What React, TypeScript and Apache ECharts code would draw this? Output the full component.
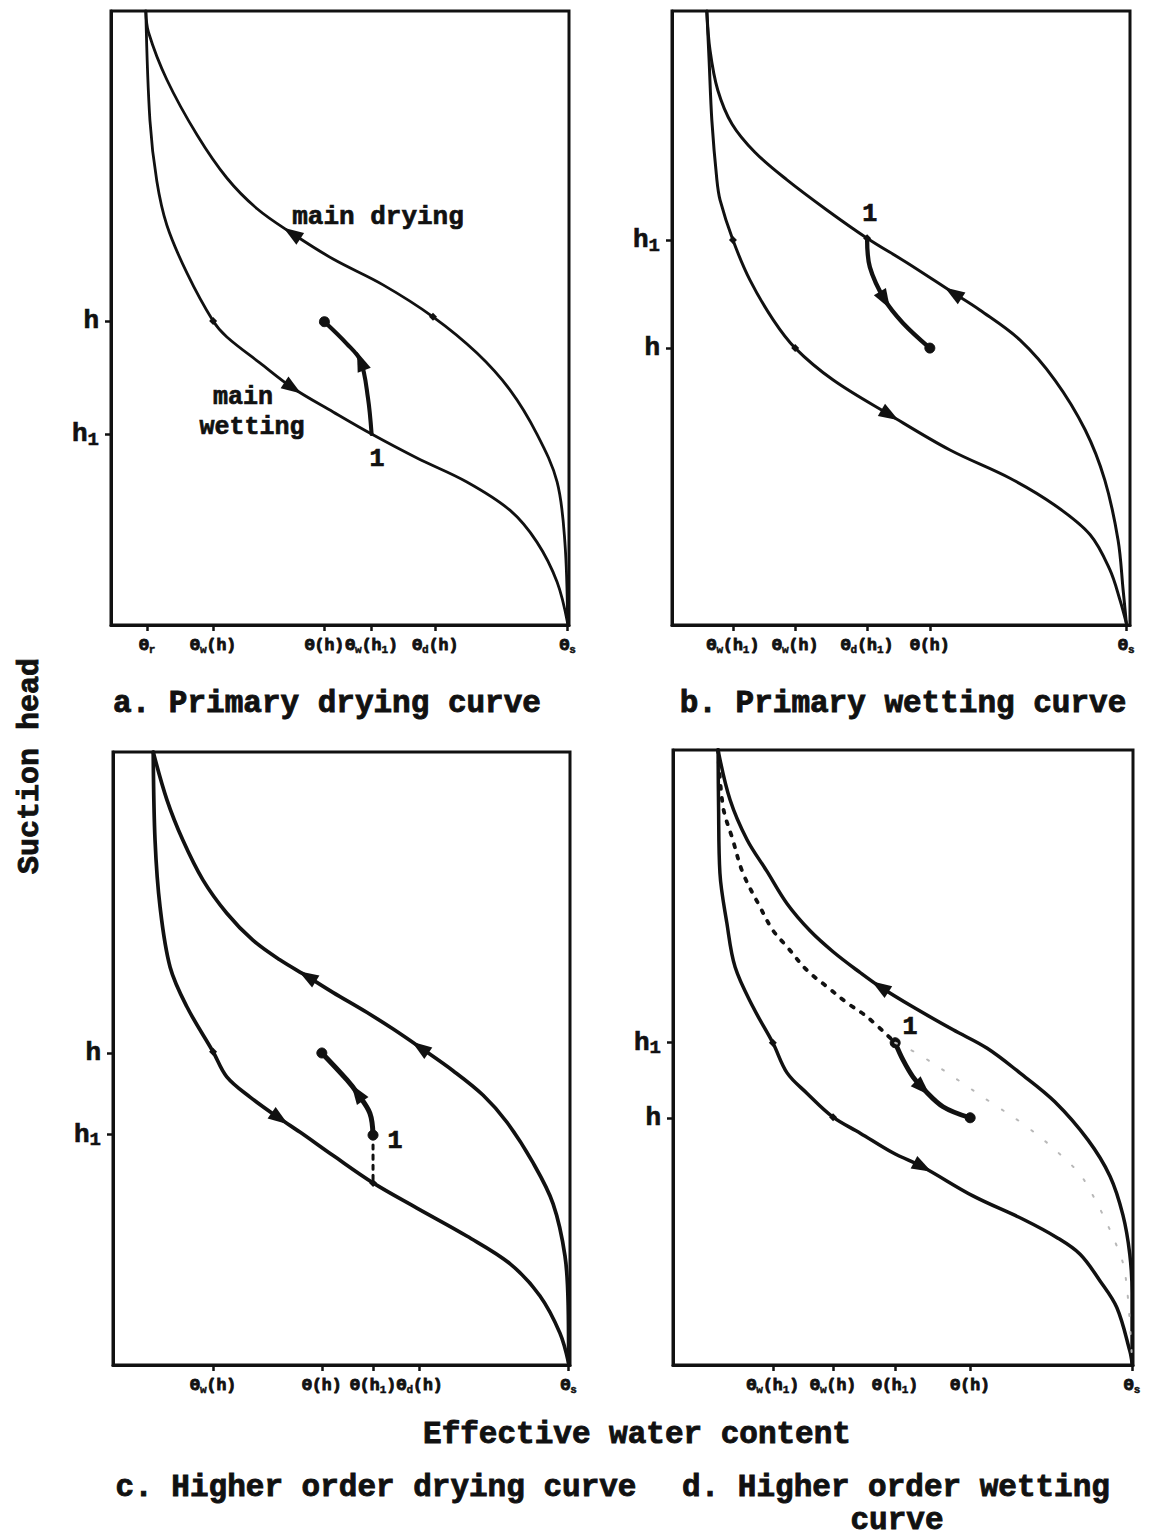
import React, { useEffect, useRef } from "react";
import * as echarts from "echarts";

type Pt = [number, number];

const FONT = "'Liberation Mono', 'Courier New', monospace";
const INK = "#111";

// ---------- Panel a : primary drying curve ----------
const dryA: Pt[] = [[7.6,100],[8.2,96.5],[12.2,88.8],[18.8,79.8],[25.3,72.8],[31.9,67.8],[39.5,63.8],[48.5,59.6],[59.4,55.4],[70.3,50.2],[79.9,44.3],[87.1,38.3],[93.0,31.1],[97.4,23.3],[99.1,13.5],[99.7,0.3]];
const wetA: Pt[] = [[7.6,100],[8.5,82.2],[10.0,72.3],[12.2,65.1],[16.6,57.3],[22.3,49.5],[25.3,46.9],[32.5,42.7],[39.7,38.6],[48.5,34.7],[56.9,31.1],[66.8,27.2],[77.7,23.3],[87.1,18.7],[93.0,13.5],[97.4,7.0],[99.7,0.3]];
const scanA: Pt[] = [[56.9,31.1],[56.1,37.0],[54.5,43.0],[51.5,45.8],[46.6,49.4]];
const xTicksA = [7.9, 22.3, 46.6, 56.9, 70.8, 99.7];
const xLabelsA = ["Θ_r", "Θ_w(h)", "Θ(h)", "Θ_w(h_1)", "Θ_d(h)", "Θ_s"];
const yTicksA = [49.5, 31.1];
const yLabelsA = ["h", "h_1"];
const marksA: Pt[] = [[22.3,49.5],[70.3,50.2]];
const dotsA: Pt[] = [[46.6,49.4]];
const notesA: { at: Pt; text: string; size: number }[] = [
  { at: [58.3, 66.4], text: "main drying", size: 26 },
  { at: [28.8, 37.1], text: "main", size: 25 },
  { at: [30.8, 32.1], text: "wetting", size: 25 },
  { at: [58.1, 27.0], text: "1", size: 25 },
];

// ---------- Panel b : primary wetting curve ----------
const dryB: Pt[] = [[7.6,100],[8.3,93.6],[10.0,87.1],[13.1,81.6],[18.1,77.0],[25.1,72.5],[33.8,67.6],[42.6,63.0],[51.3,59.0],[61.4,54.1],[67.2,51.3],[76.0,46.4],[83.6,39.9],[90.2,31.8],[94.5,23.6],[97.4,13.8],[98.5,5.7],[99.2,0.3]];
const wetB: Pt[] = [[7.6,100],[8.1,92.0],[8.7,82.2],[9.8,72.5],[10.5,69.2],[13.3,62.7],[17.0,56.2],[22.1,49.7],[26.9,45.1],[35.2,39.9],[47.6,34.2],[60.7,28.5],[73.8,23.9],[83.6,19.5],[91.3,14.7],[95.6,9.0],[97.8,4.1],[99.2,0.3]];
const scanB: Pt[] = [[42.6,63.0],[43.2,58.3],[46.5,52.9],[50.4,49.2],[56.3,45.1]];
const xTicksB = [13.3, 26.9, 42.6, 56.3, 99.2];
const xLabelsB = ["Θ_w(h_1)", "Θ_w(h)", "Θ_d(h_1)", "Θ(h)", "Θ_s"];
const yTicksB = [62.7, 45.1];
const yLabelsB = ["h_1", "h"];
const marksB: Pt[] = [[13.3,62.7],[26.9,45.1],[42.6,63.0]];
const dotsB: Pt[] = [[56.3,45.1]];
const notesB = [{ at: [43.2, 66.8] as Pt, text: "1", size: 25 }];

// ---------- Panel c : higher order drying curve ----------
const dryC: Pt[] = [[8.8,100],[11.8,92.2],[15.3,85.6],[19.7,79.1],[24.9,73.7],[30.6,69.3],[36.5,66.1],[42.5,63.4],[48.1,60.8],[55.6,57.5],[61.3,54.8],[67.2,51.8],[74.4,48.0],[81.0,44.0],[86.2,39.6],[91.9,33.0],[96.3,26.3],[98.9,17.8],[99.6,9.8],[99.7,0.3]];
const wetC: Pt[] = [[8.8,100],[9.2,85.6],[10.3,74.7],[12.5,64.9],[16.2,58.4],[21.9,51.1],[24.9,47.0],[30.0,43.7],[36.5,40.2],[40.9,38.0],[48.1,34.2],[56.9,29.7],[66.5,25.6],[77.5,21.0],[86.9,16.5],[93.4,11.3],[97.8,5.2],[99.7,0.3]];
const scanC: Pt[] = [[56.9,37.5],[56.2,41.1],[53.4,44.4],[51.2,46.5],[45.7,50.9]];
const linkC: Pt[] = [[56.9,37.5],[56.9,29.7]];
const xTicksC = [21.9, 45.7, 56.9, 67.1, 99.7];
const xLabelsC = ["Θ_w(h)", "Θ(h)", "Θ(h_1)", "Θ_d(h)", "Θ_s"];
const yTicksC = [50.9, 37.6];
const yLabelsC = ["h", "h_1"];
const marksC: Pt[] = [[21.9,51.1],[56.9,29.7]];
const dotsC: Pt[] = [[45.7,50.9],[56.9,37.5]];
const notesC = [{ at: [61.7, 36.4] as Pt, text: "1", size: 25 }];

// ---------- Panel d : higher order wetting curve ----------
const dryD: Pt[] = [[9.8,100],[12.4,91.9],[16.1,85.4],[20.4,80.3],[24.8,75.0],[29.8,70.6],[34.8,67.2],[40.7,63.8],[45.0,61.5],[52.2,58.2],[60.9,54.5],[68.3,51.5],[75.4,47.5],[83.0,42.8],[90.2,36.6],[95.0,30.7],[97.8,24.4],[99.3,18.0],[99.8,11.7],[99.8,0.3]];
const wetD: Pt[] = [[9.8,100],[9.9,91.0],[10.2,80.0],[11.7,71.9],[13.5,64.7],[17.4,58.2],[21.7,52.4],[24.8,47.5],[29.1,44.2],[34.8,40.3],[40.7,37.7],[47.8,34.5],[54.3,32.2],[65.2,27.5],[76.1,23.7],[83.5,20.7],[88.5,18.0],[92.8,13.7],[96.5,9.3],[99.3,2.3],[99.8,0.3]];
const pathD: Pt[] = [[9.8,100],[10.9,90.7],[13.0,85.4],[15.2,80.0],[18.9,74.5],[21.7,70.7],[24.8,68.0],[29.1,64.2],[33.5,61.5],[37.8,58.9],[42.2,56.6],[48.3,52.4]];
const faintD: Pt[] = [[48.3,52.4],[53.7,50.4],[68.9,42.8],[77.0,38.7],[84.8,33.8],[89.6,29.8],[97.2,18.0],[98.7,12.4],[99.8,0.5]];
const scanD: Pt[] = [[48.3,52.4],[50.0,49.6],[52.2,46.8],[54.3,45.0],[58.7,42.0],[64.6,40.2]];
const xTicksD = [21.7, 34.8, 48.3, 64.6, 99.8];
const xLabelsD = ["Θ_w(h_1)", "Θ_w(h)", "Θ(h_1)", "Θ(h)", "Θ_s"];
const yTicksD = [52.4, 40.2];
const yLabelsD = ["h_1", "h"];
const marksD: Pt[] = [[21.7,52.4],[34.8,40.3]];
const dotsD: Pt[] = [[64.6,40.2],[48.3,52.4]];
const notesD = [{ at: [51.5, 54.8] as Pt, text: "1", size: 25 }];

function toRich(s: string, main: string, sub: string) {
  let out = "";
  let buf = "";
  for (let i = 0; i < s.length; i++) {
    if (s[i] === "_" && i + 1 < s.length) {
      if (buf) { out += `{${main}|${buf}}`; buf = ""; }
      out += `{${sub}|${s[i + 1]}}`;
      i++;
    } else buf += s[i];
  }
  if (buf) out += `{${main}|${buf}}`;
  return out;
}

function pick(ticks: number[], labels: string[], v: number) {
  let best = 0;
  for (let j = 1; j < ticks.length; j++) if (Math.abs(ticks[j] - v) < Math.abs(ticks[best] - v)) best = j;
  return labels[best];
}

type Arrow = { curve: Pt[]; i: number; dir: number };

const panels = [
  { grid: { left: 111, top: 11, width: 458, height: 614 }, lw: 2.8, dry: dryA, wet: wetA, scan: scanA, extra: [] as any[],
    xTicks: xTicksA, xLabels: xLabelsA, yTicks: yTicksA, yLabels: yLabelsA, marks: marksA, dots: dotsA, notes: notesA,
    arrows: [{ curve: dryA, i: 6, dir: -1 }, { curve: wetA, i: 8, dir: 1 }, { curve: scanA, i: 2, dir: 1 }] as Arrow[] },
  { grid: { left: 672, top: 11, width: 458, height: 614 }, lw: 3.0, dry: dryB, wet: wetB, scan: scanB, extra: [] as any[],
    xTicks: xTicksB, xLabels: xLabelsB, yTicks: yTicksB, yLabels: yLabelsB, marks: marksB, dots: dotsB, notes: notesB,
    arrows: [{ curve: dryB, i: 9, dir: -1 }, { curve: wetB, i: 10, dir: 1 }, { curve: scanB, i: 2, dir: 1 }] as Arrow[] },
  { grid: { left: 113, top: 752, width: 457, height: 613 }, lw: 3.7, dry: dryC, wet: wetC, scan: scanC,
    extra: [{ data: linkC, dash: [4, 6], width: 3, color: INK }],
    xTicks: xTicksC, xLabels: xLabelsC, yTicks: yTicksC, yLabels: yLabelsC, marks: marksC, dots: dotsC, notes: notesC,
    arrows: [{ curve: dryC, i: 7, dir: -1 }, { curve: dryC, i: 11, dir: -1 }, { curve: wetC, i: 8, dir: 1 }, { curve: scanC, i: 2, dir: 1 }] as Arrow[] },
  { grid: { left: 673, top: 750, width: 460, height: 615 }, lw: 3.5, dry: dryD, wet: wetD, scan: scanD,
    extra: [
      { data: pathD, dash: [3, 9], width: 3.8, color: INK },
      { data: faintD, dash: [2, 16], width: 2, color: "#b8b8b8" },
    ],
    xTicks: xTicksD, xLabels: xLabelsD, yTicks: yTicksD, yLabels: yLabelsD, marks: marksD, dots: dotsD, notes: notesD,
    arrows: [{ curve: dryD, i: 8, dir: -1 }, { curve: wetD, i: 12, dir: 1 }, { curve: scanD, i: 3, dir: 1 }] as Arrow[] },
];

function arrowAngle(a: Arrow, sx: number, sy: number) {
  const c = a.curve;
  const p0 = c[Math.max(0, a.i - 1)];
  const p1 = c[Math.min(c.length - 1, a.i + 1)];
  const dx = (p1[0] - p0[0]) * sx * a.dir;
  const dy = (p1[1] - p0[1]) * sy * a.dir;
  return (Math.atan2(-dx, dy) * 180) / Math.PI;
}

function buildOption() {
  const grid: any[] = [];
  const xAxis: any[] = [];
  const yAxis: any[] = [];
  const series: any[] = [];
  const labelRich = {
    m: { fontFamily: FONT, fontWeight: "bold", fontSize: 16.5, color: INK, lineHeight: 20, textBorderColor: INK, textBorderWidth: 0.9 },
    s: { fontFamily: FONT, fontWeight: "bold", fontSize: 11, color: INK, lineHeight: 10, verticalAlign: "bottom", textBorderColor: INK, textBorderWidth: 0.5 },
    hm: { fontFamily: FONT, fontWeight: "bold", fontSize: 26, color: INK, lineHeight: 30, textBorderColor: INK, textBorderWidth: 0.7 },
    hs: { fontFamily: FONT, fontWeight: "bold", fontSize: 19, color: INK, lineHeight: 20, verticalAlign: "bottom", textBorderColor: INK, textBorderWidth: 0.5 },
  };
  panels.forEach((p, k) => {
    grid.push({ ...p.grid, show: true, borderColor: INK, borderWidth: 3, backgroundColor: "transparent" });
    xAxis.push({
      type: "value", gridIndex: k, min: 0, max: 100,
      splitLine: { show: false },
      axisLine: { show: true, lineStyle: { color: INK, width: 3 } },
      axisTick: { show: true, customValues: p.xTicks, length: 6, lineStyle: { color: INK, width: 2.5 } },
      axisLabel: {
        show: true, customValues: p.xTicks, margin: 10, showMinLabel: true, showMaxLabel: true, hideOverlap: false,
        formatter: (v: number) => toRich(pick(p.xTicks, p.xLabels, v), "m", "s"),
        rich: labelRich,
      },
    });
    yAxis.push({
      type: "value", gridIndex: k, min: 0, max: 100,
      splitLine: { show: false },
      axisLine: { show: true, lineStyle: { color: INK, width: 3 } },
      axisTick: { show: true, customValues: p.yTicks, length: 6, lineStyle: { color: INK, width: 2.5 } },
      axisLabel: {
        show: true, customValues: p.yTicks, margin: 12, showMinLabel: true, showMaxLabel: true, hideOverlap: false,
        formatter: (v: number) => toRich(pick(p.yTicks, p.yLabels, v), "hm", "hs"),
        rich: labelRich,
      },
    });
    const sx = p.grid.width / 100;
    const sy = p.grid.height / 100;
    const line = (data: Pt[], width: number, extra: any = {}) => ({
      type: "line", xAxisIndex: k, yAxisIndex: k, data, smooth: 0.35, symbol: "none", silent: true,
      lineStyle: { color: INK, width, cap: "round", join: "round", ...extra },
    });
    series.push(line(p.dry, p.lw));
    series.push(line(p.wet, p.lw));
    series.push(line(p.scan, p.lw + 1.3));
    p.extra.forEach((e: any) => {
      series.push(line(e.data, e.width, { type: e.dash, color: e.color, cap: "round" }));
    });
    series.push({
      type: "scatter", xAxisIndex: k, yAxisIndex: k, symbol: "triangle", symbolSize: [14, 20], silent: true,
      itemStyle: { color: INK, opacity: 1 },
      data: p.arrows.map((a) => ({ value: a.curve[a.i], symbolRotate: arrowAngle(a, sx, sy) })),
    });
    series.push({
      type: "scatter", xAxisIndex: k, yAxisIndex: k, symbol: "diamond", symbolSize: 8, silent: true,
      itemStyle: { color: INK, opacity: 1 }, data: p.marks,
    });
    series.push({
      type: "scatter", xAxisIndex: k, yAxisIndex: k, symbol: "circle", symbolSize: 10, silent: true,
      itemStyle: { color: INK, opacity: 1, borderColor: INK, borderWidth: 1 }, data: p.dots,
    });
    series.push({
      type: "scatter", xAxisIndex: k, yAxisIndex: k, symbol: "circle", symbolSize: 0, silent: true,
      itemStyle: { color: INK, opacity: 1 },
      data: p.notes.map((n) => ({
        value: n.at,
        label: {
          show: true, position: "inside", formatter: n.text, color: INK, opacity: 1,
          fontFamily: FONT, fontWeight: "bold", fontSize: n.size,
          textBorderColor: INK, textBorderWidth: 0.7,
        },
      })),
    });
  });

  const txt = (text: string, x: number, y: number, size: number, rot = 0) => ({
    type: "text", x, y, rotation: rot, silent: true,
    style: {
      text, fill: INK, font: `bold ${size}px ${FONT}`, align: "center", verticalAlign: "middle",
      stroke: INK, lineWidth: 0.9,
    },
  });

  return {
    animation: false,
    backgroundColor: "#fff",
    grid, xAxis, yAxis, series,
    graphic: [
      txt("a. Primary drying curve", 327, 703, 31),
      txt("b. Primary wetting curve", 903, 703, 31),
      txt("Effective water content", 637, 1434, 31),
      txt("c. Higher order drying curve", 376, 1487, 31),
      txt("d. Higher order wetting", 896, 1487, 31),
      txt("curve", 897, 1520, 31),
      txt("Suction head", 30, 766, 30, Math.PI / 2),
    ],
  };
}

export default function App() {
  const ref = useRef<HTMLDivElement>(null);
  useEffect(() => {
    if (!ref.current) return;
    const chart = echarts.init(ref.current, undefined, { renderer: "svg" });
    chart.setOption(buildOption() as any);
    return () => chart.dispose();
  }, []);
  return (
    <div
      ref={ref}
      style={{ position: "absolute", left: 0, top: 0, width: 1161, height: 1538, background: "#fff" }}
    />
  );
}
